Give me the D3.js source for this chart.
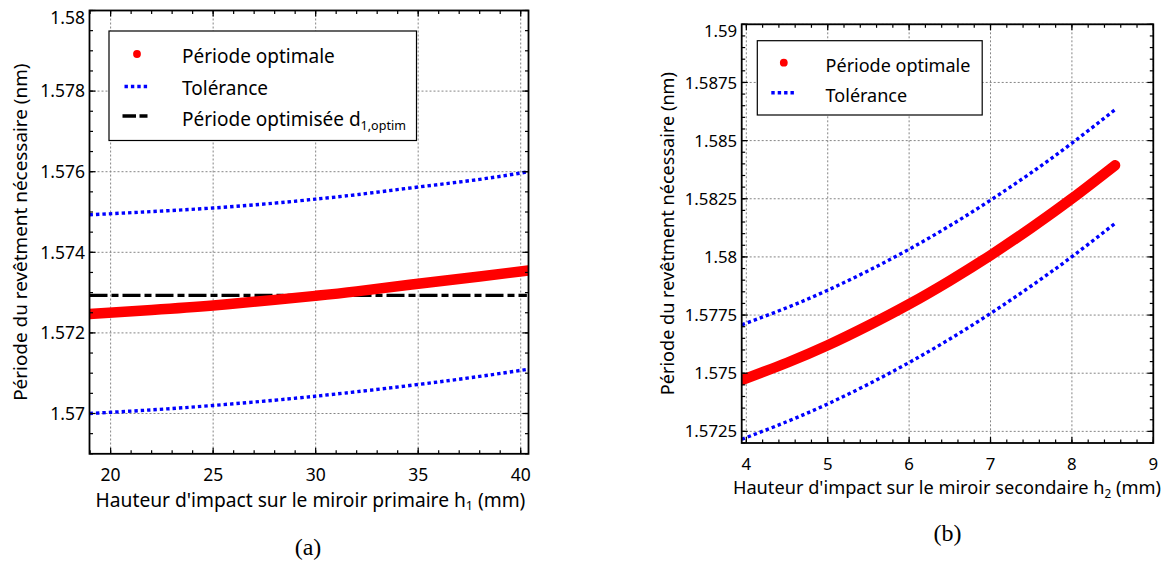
<!DOCTYPE html>
<html><head><meta charset="utf-8">
<script src="https://cdn.jsdelivr.net/npm/d3@7"></script>
<style>
body{margin:0;background:#fff}
svg{display:block}
text{font-family:"Noto Sans",sans-serif;fill:#000}
</style>
</head><body>
<svg id="c" width="1166" height="562"></svg>
<script>
// ---------- Panel (a) data ----------
const h1 = [18.97, 22, 25, 28, 30, 32, 35, 38, 40.38];
const periodOptA = [1.57247, 1.57257, 1.57268, 1.57282, 1.57292, 1.57303, 1.57322, 1.5734, 1.57355];
const tolUpperA = [1.57493, 1.57501, 1.5751, 1.57522, 1.57532, 1.57543, 1.57562, 1.57581, 1.576];
const tolLowerA = [1.57, 1.57009, 1.5702, 1.57033, 1.57043, 1.57054, 1.57072, 1.57092, 1.5711];
const dOptimX = [18.97, 40.3];
const dOptimY = [1.57293, 1.57293];
const xTicksA = [20, 25, 30, 35, 40];
const yTicksA = [1.57, 1.572, 1.574, 1.576, 1.578, 1.58];
const yTickLabelsA = ["1.57", "1.572", "1.574", "1.576", "1.578", "1.58"];

// ---------- Panel (b) data ----------
const h2 = [3.943, 4.5, 5, 5.5, 6, 6.5, 7, 7.5, 8, 8.53];
const periodOptB = [1.5747, 1.57545, 1.5762, 1.57705, 1.57797, 1.57898, 1.58007, 1.58125, 1.58251, 1.58394];
const tolUpperB = [1.57708, 1.57782, 1.57857, 1.57941, 1.58033, 1.58134, 1.58244, 1.58362, 1.58489, 1.58633];
const tolLowerB = [1.57216, 1.57292, 1.57368, 1.57453, 1.57546, 1.57647, 1.57757, 1.57875, 1.58001, 1.58144];
const xTicksB = [4, 5, 6, 7, 8, 9];
const yTicksB = [1.5725, 1.575, 1.5775, 1.58, 1.5825, 1.585, 1.5875, 1.59];
const yTickLabelsB = ["1.5725", "1.575", "1.5775", "1.58", "1.5825", "1.585", "1.5875", "1.59"];

const svg = d3.select("#c");
const RED = "#ff0000", BLUE = "#0000ff";

function zip(xs, ys){ return xs.map((x,i)=>[x, ys[i]]); }

function panel(cfg){
  const x = d3.scaleLinear().domain(cfg.xDomain).range([cfg.left, cfg.right]);
  const y = d3.scaleLinear().domain(cfg.yDomain).range([cfg.bottom, cfg.top]);
  const g = svg.append("g");
  const clipId = "clip" + cfg.id;
  g.append("clipPath").attr("id", clipId).append("rect")
    .attr("x", cfg.left).attr("y", cfg.top)
    .attr("width", cfg.right - cfg.left).attr("height", cfg.bottom - cfg.top);

  // grid
  const grid = g.append("g").attr("stroke", "#858585").attr("stroke-width", 1).attr("stroke-dasharray", "2,2");
  grid.selectAll("line.gx").data(cfg.xTicks).join("line")
    .attr("x1", d=>x(d)).attr("x2", d=>x(d)).attr("y1", cfg.top).attr("y2", cfg.bottom);
  grid.selectAll("line.gy").data(cfg.yTicks).join("line").attr("class","gy")
    .attr("y1", d=>y(d)).attr("y2", d=>y(d)).attr("x1", cfg.left).attr("x2", cfg.right);

  const line = d3.line().x(d=>x(d[0])).y(d=>y(d[1])).curve(d3.curveNatural);
  const data = g.append("g").attr("clip-path", `url(#${clipId})`);
  cfg.series.forEach(s=>{
    data.append("path").attr("d", line(zip(s.x, s.y)))
      .attr("fill", "none").attr("stroke", s.color).attr("stroke-width", s.width)
      .attr("stroke-dasharray", s.dash || null)
      .attr("stroke-linecap", s.cap || "butt");
  });

  // legend
  const L = cfg.legend;
  g.append("rect").attr("x", L.x0).attr("y", L.y0).attr("width", L.x1 - L.x0).attr("height", L.y1 - L.y0)
    .attr("fill", "#fff").attr("stroke", "#000").attr("stroke-width", 1.2);
  L.rows.forEach(r=>{
    if (r.type === "dot") {
      g.append("circle").attr("cx", L.symX).attr("cy", r.sy).attr("r", 3.9).attr("fill", RED);
    } else if (r.type === "dots") {
      g.append("line").attr("x1", L.symX - 12.5).attr("x2", L.symX + 12.5).attr("y1", r.sy).attr("y2", r.sy)
        .attr("stroke", BLUE).attr("stroke-width", 3.4).attr("stroke-dasharray", "3.4,3");
    } else if (r.type === "dashdot") {
      g.append("line").attr("x1", L.symX - 14.5).attr("x2", L.symX + 11).attr("y1", r.sy).attr("y2", r.sy)
        .attr("stroke", "#000").attr("stroke-width", 3.4).attr("stroke-dasharray", "13.5,3.5,8,99");
    }
    const t = g.append("text").attr("x", L.textX).attr("y", r.ty).attr("font-size", cfg.legendFont).text(r.label);
    if (r.sub) t.append("tspan").attr("font-size", cfg.legendFont * 0.66).attr("dy", 4).text(r.sub);
  });

  // frame
  g.append("rect").attr("x", cfg.left).attr("y", cfg.top).attr("width", cfg.right - cfg.left)
    .attr("height", cfg.bottom - cfg.top).attr("fill", "none").attr("stroke", "#000").attr("stroke-width", 1.8);

  // ticks (inward, four sides)
  const tk = g.append("g").attr("stroke", "#000").attr("stroke-width", 1.2);
  function ticksX(vals, len){
    vals.forEach(v=>{
      tk.append("line").attr("x1", x(v)).attr("x2", x(v)).attr("y1", cfg.bottom).attr("y2", cfg.bottom - len);
      tk.append("line").attr("x1", x(v)).attr("x2", x(v)).attr("y1", cfg.top).attr("y2", cfg.top + len);
    });
  }
  function ticksY(vals, len){
    vals.forEach(v=>{
      tk.append("line").attr("y1", y(v)).attr("y2", y(v)).attr("x1", cfg.left).attr("x2", cfg.left + len);
      tk.append("line").attr("y1", y(v)).attr("y2", y(v)).attr("x1", cfg.right).attr("x2", cfg.right - len);
    });
  }
  ticksX(cfg.xMinor.filter(v=>v>=cfg.xDomain[0] && v<=cfg.xDomain[1]), 3.5);
  ticksY(cfg.yMinor.filter(v=>v>=cfg.yDomain[0] && v<=cfg.yDomain[1]), 3.5);
  ticksX(cfg.xTicks, 6);
  ticksY(cfg.yTicks, 6);

  // tick labels
  g.selectAll("text.xl").data(cfg.xTicks).join("text").attr("class","xl")
    .attr("x", d=>x(d)).attr("y", cfg.xLabelY).attr("text-anchor", "middle").attr("font-size", cfg.tickFont).text(d=>d);
  g.selectAll("text.yl").data(cfg.yTicks).join("text").attr("class","yl")
    .attr("x", cfg.left - 4.5).attr("y", d=>Math.max(y(d), cfg.top + cfg.topLabelShift)).attr("dy", "0.36em").attr("text-anchor", "end")
    .attr("font-size", cfg.tickFont).text((d,i)=>cfg.yTickLabels[i]);

  // axis titles
  const xt = g.append("text").attr("x", cfg.xTitleX).attr("y", cfg.xTitleY).attr("text-anchor", "middle")
    .attr("font-size", cfg.titleFont).text(cfg.xTitle);
  xt.append("tspan").attr("font-size", cfg.titleFont * 0.65).attr("dy", 3.5).text(cfg.xSub);
  xt.append("tspan").attr("dy", -3.5).text(" (mm)");
  g.append("text").attr("transform", `translate(${cfg.yTitleX},${(cfg.top + cfg.bottom)/2}) rotate(-90)`)
    .attr("text-anchor", "middle").attr("font-size", cfg.yTitleFont).text("Période du revêtment nécessaire (nm)");

  // caption
  g.append("text").attr("x", cfg.capX).attr("y", cfg.capY).attr("text-anchor", "middle")
    .style("font-family", "'Liberation Serif', serif").attr("font-size", 24).text(cfg.caption);
}

panel({
  id: "a", left: 89.5, right: 528.5, top: 10.5, bottom: 453.8,
  xDomain: [18.97, 40.38], yDomain: [1.569, 1.58],
  xTicks: xTicksA, yTicks: yTicksA, yTickLabels: yTickLabelsA,
  xMinor: d3.range(19, 41, 1), yMinor: d3.range(0, 23).map(i => 1.569 + i * 0.0005),
  tickFont: 17.5, titleFont: 19.2, yTitleFont: 18.9, legendFont: 19, topLabelShift: 7,
  series: [
    {x: h1, y: tolUpperA, color: BLUE, width: 3.4, dash: "3.4,3"},
    {x: h1, y: tolLowerA, color: BLUE, width: 3.4, dash: "3.4,3"},
    {x: dOptimX, y: dOptimY, color: "#000", width: 3.4, dash: "18,4,7,4"},
    {x: h1, y: periodOptA, color: RED, width: 10.5, cap: "round"}
  ],
  legend: {x0: 109, x1: 416.5, y0: 31, y1: 140.5, symX: 137, textX: 182,
    rows: [
      {type: "dot", sy: 54, ty: 62.5, label: "Période optimale"},
      {type: "dots", sy: 86.5, ty: 94.5, label: "Tolérance"},
      {type: "dashdot", sy: 116, ty: 125.5, label: "Période optimisée d", sub: "1,optim"}
    ]},
  xLabelY: 480.5, xTitleX: 310.5, xTitleY: 506.5, xTitle: "Hauteur d'impact sur le miroir primaire h", xSub: "1",
  yTitleX: 27, capX: 308, capY: 555, caption: "(a)"
});

panel({
  id: "b", left: 741.7, right: 1153.3, top: 24.3, bottom: 443,
  xDomain: [3.943, 9], yDomain: [1.572, 1.59],
  xTicks: xTicksB, yTicks: yTicksB, yTickLabels: yTickLabelsB,
  xMinor: d3.range(0, 26).map(i => 4 + i * 0.2), yMinor: d3.range(0, 37).map(i => 1.572 + i * 0.0005),
  tickFont: 16.8, titleFont: 18.2, yTitleFont: 18.1, legendFont: 18, topLabelShift: 7,
  series: [
    {x: h2, y: tolUpperB, color: BLUE, width: 3.4, dash: "3.4,3"},
    {x: h2, y: tolLowerB, color: BLUE, width: 3.4, dash: "3.4,3"},
    {x: h2, y: periodOptB, color: RED, width: 10.5, cap: "round"}
  ],
  legend: {x0: 757.3, x1: 982.2, y0: 40.7, y1: 115, symX: 783.8, textX: 825.6,
    rows: [
      {type: "dot", sy: 62.7, ty: 71.5, label: "Période optimale"},
      {type: "dots", sy: 92.7, ty: 101.5, label: "Tolérance"}
    ]},
  xLabelY: 469.5, xTitleX: 947, xTitleY: 494.3, xTitle: "Hauteur d'impact sur le miroir secondaire h", xSub: "2",
  yTitleX: 674, capX: 947.4, capY: 541, caption: "(b)"
});
</script>
</body></html>
